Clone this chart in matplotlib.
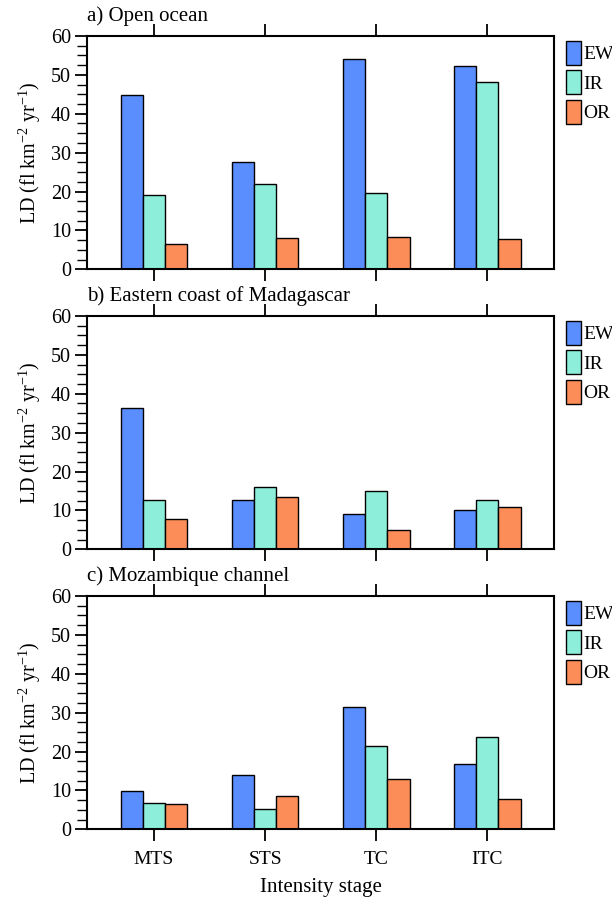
import numpy as np
import matplotlib
matplotlib.use('Agg')
import matplotlib.pyplot as plt
from matplotlib.ticker import AutoMinorLocator

plt.rcParams['font.family'] = ['Liberation Serif', 'DejaVu Serif']
plt.rcParams['mathtext.default'] = 'regular'

stages = ['MTS', 'STS', 'TC', 'ITC']
series = ['EW', 'IR', 'OR']
colors = ['#5A8DFE', '#8DEFD9', '#FD8D58']

panel_titles = ['a) Open ocean', 'b) Eastern coast of Madagascar', 'c) Mozambique channel']

open_ocean_ew = [44.8, 27.6, 54.1, 52.3]
open_ocean_ir = [19.1, 21.9, 19.6, 48.2]
open_ocean_or = [6.4, 8.0, 8.2, 7.7]

madagascar_ew = [36.3, 12.6, 9.2, 10.1]
madagascar_ir = [12.7, 16.1, 14.9, 12.6]
madagascar_or = [7.7, 13.4, 5.0, 10.9]

mozambique_ew = [9.9, 13.9, 31.5, 16.8]
mozambique_ir = [6.8, 5.3, 21.3, 23.7]
mozambique_or = [6.6, 8.6, 13.0, 7.9]

panels = [
    [open_ocean_ew, open_ocean_ir, open_ocean_or],
    [madagascar_ew, madagascar_ir, madagascar_or],
    [mozambique_ew, mozambique_ir, mozambique_or],
]

fig = plt.figure(figsize=(6.12, 8.98), dpi=100)
left, width, height = 0.1427, 0.7626, 0.2598
bottoms = [0.7001, 0.3883, 0.0765]

x = np.arange(1, len(stages) + 1)
bar_w = 0.2
offsets = [-0.2, 0.0, 0.2]

for i, (vals, title) in enumerate(zip(panels, panel_titles)):
    ax = fig.add_axes([left, bottoms[i], width, height])
    for s, (v, c, off) in enumerate(zip(vals, colors, offsets)):
        ax.bar(x + off, v, width=bar_w, color=c, edgecolor='black', linewidth=1.0,
               label=series[s], zorder=2)
    ax.set_xlim(0.4, 4.6)
    ax.set_ylim(0, 60)
    ax.set_yticks(range(0, 61, 10))
    ax.yaxis.set_minor_locator(AutoMinorLocator(4))
    ax.set_xticks(x)
    ax.tick_params(axis='y', which='major', direction='out', length=8.6, width=1.3,
                   labelsize=14.5, pad=3)
    ax.tick_params(axis='y', which='minor', direction='out', length=7, width=1.0)
    ax.tick_params(axis='x', which='major', direction='out', length=8.6, width=1.3,
                   top=True, labelsize=14, pad=7)
    if i < 2:
        ax.set_xticklabels([])
    else:
        ax.set_xticklabels(stages)
        ax.set_xlabel('Intensity stage', fontsize=15, labelpad=7)
    for sp in ax.spines.values():
        sp.set_linewidth(1.5)
    ax.set_ylabel('LD (fl km$^{-2}$ yr$^{-1}$)', fontsize=14.5, labelpad=6)
    ax.text(0.0, 1.065, title, transform=ax.transAxes, fontsize=15, va='baseline', ha='left')
    ax.legend(loc='upper left', bbox_to_anchor=(1.026, 0.979), frameon=False, fontsize=14,
              handlelength=0.77, handleheight=1.52, handletextpad=0.1, labelspacing=0.28,
              borderaxespad=0, borderpad=0)

fig.savefig('out.png', dpi=100)
